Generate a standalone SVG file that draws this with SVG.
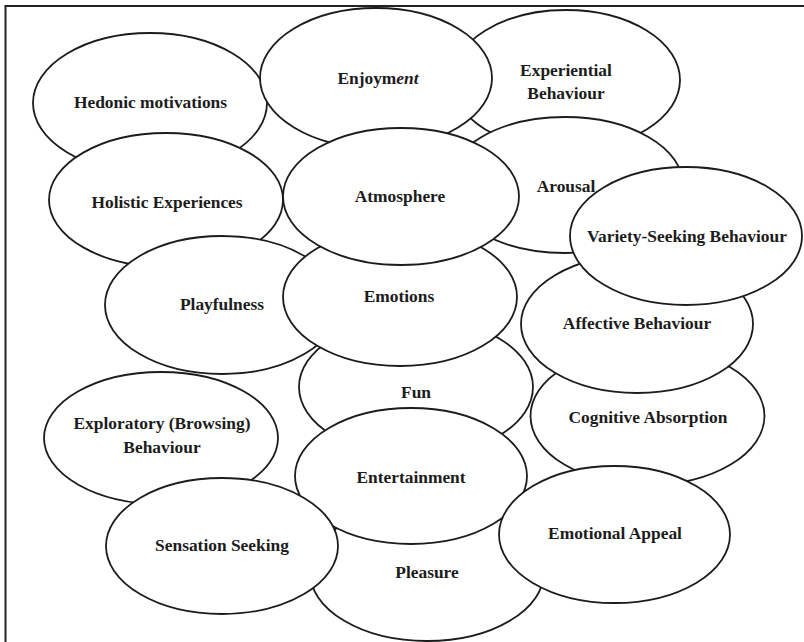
<svg xmlns="http://www.w3.org/2000/svg" width="804" height="642" viewBox="0 0 804 642">
<style>
.n ellipse{fill:#fff;stroke:#1c1c1c;stroke-width:1.8}
text{font-family:"Liberation Serif","Times New Roman",serif;font-weight:bold;font-size:17.4px;fill:#1c1c1c;text-anchor:middle}
.it{font-style:italic}
</style>
<rect width="804" height="642" fill="#fff"/>
<path d="M5.5,642 V6 H804" fill="none" stroke="#222" stroke-width="2"/>
<g id="connectors"/>
<g id="hedonic" class="n"><ellipse cx="150" cy="103" rx="117" ry="70"/><text x="150.5" y="108">Hedonic motivations</text></g>
<g id="experiential" class="n"><ellipse cx="566" cy="80" rx="114" ry="70"/><text x="566" y="76">Experiential</text><text x="566" y="99">Behaviour</text></g>
<g id="enjoyment" class="n"><ellipse cx="376" cy="78" rx="116" ry="70"/><text x="378" y="84">Enjoym<tspan class="it">ent</tspan></text></g>
<g id="holistic" class="n"><ellipse cx="166" cy="200" rx="117" ry="67"/><text x="167" y="208">Holistic Experiences</text></g>
<g id="exploratory" class="n"><ellipse cx="161" cy="438" rx="117" ry="66"/><text x="162" y="429">Exploratory (Browsing)</text><text x="162" y="453">Behaviour</text></g>
<g id="playfulness" class="n"><ellipse cx="222" cy="305" rx="117" ry="69"/><text x="222" y="310">Playfulness</text></g>
<g id="arousal" class="n"><ellipse cx="565" cy="185" rx="118" ry="68"/><text x="566" y="192">Arousal</text></g>
<g id="fun" class="n"><ellipse cx="416" cy="387" rx="117" ry="69"/><text x="416" y="398">Fun</text></g>
<g id="emotions" class="n"><ellipse cx="400" cy="297" rx="117" ry="69"/><text x="399" y="302">Emotions</text></g>
<g id="atmosphere" class="n"><ellipse cx="401" cy="196.5" rx="118" ry="68.5"/><text x="400" y="202">Atmosphere</text></g>
<g id="cognitive" class="n"><ellipse cx="647.5" cy="416" rx="117" ry="69"/><text x="648" y="423">Cognitive Absorption</text></g>
<g id="affective" class="n"><ellipse cx="637" cy="324" rx="116" ry="69"/><text x="637" y="329">Affective Behaviour</text></g>
<g id="variety" class="n"><ellipse cx="686" cy="236" rx="116" ry="69"/><text x="687" y="242">Variety-Seeking Behaviour</text></g>
<g id="pleasure" class="n"><ellipse cx="427" cy="572" rx="117" ry="69"/><text x="427" y="578">Pleasure</text></g>
<g id="entertainment" class="n"><ellipse cx="411" cy="476" rx="116" ry="68"/><text x="411" y="483">Entertainment</text></g>
<g id="sensation" class="n"><ellipse cx="222" cy="546" rx="116" ry="68"/><text x="222" y="551">Sensation Seeking</text></g>
<g id="emotional-appeal" class="n"><ellipse cx="614.5" cy="534.5" rx="115.5" ry="68.5"/><text x="615" y="539">Emotional Appeal</text></g>
</svg>
